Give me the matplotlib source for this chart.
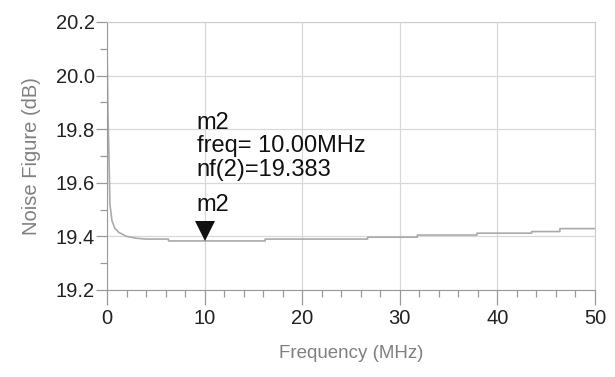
import matplotlib.pyplot as plt
import matplotlib.transforms as mtransforms
from matplotlib.ticker import MultipleLocator

# Noise figure trace (MHz, dB)
freq = [0.0, 0.1, 0.2, 0.3, 0.5, 0.8, 1.2, 2.0, 3.0, 4.0, 6.3, 6.3, 16.2, 16.2,
        26.7, 26.7, 31.8, 31.8, 37.9, 37.9, 43.5, 43.5, 46.4, 46.4, 50.0]
nf = [20.10, 19.85, 19.70, 19.52, 19.46, 19.43, 19.415, 19.40, 19.393, 19.39, 19.39, 19.383,
      19.383, 19.39, 19.39, 19.397, 19.397, 19.405, 19.405, 19.412, 19.412, 19.418,
      19.418, 19.429, 19.429]

marker_freq = 10.0
marker_nf = 19.383
readout = ['m2', 'freq= 10.00MHz', 'nf(2)=19.383']

plt.rcParams['font.family'] = ['Liberation Sans', 'DejaVu Sans']

fig = plt.figure(figsize=(6.15, 3.77), dpi=100)
ax = fig.add_axes([0.174, 0.2308, 0.7935, 0.7109])

ax.plot(freq, nf, color='#aaaaaa', linewidth=1.2)

# marker triangle, tip sitting on the data point
msize = 14
tip = mtransforms.offset_copy(ax.transData, fig=fig, y=msize / 2, units='points')
ax.plot([marker_freq], [marker_nf], marker='v', color='#111111', markersize=msize,
        markeredgewidth=0, linestyle='none', transform=tip, clip_on=False)
ax.text(marker_freq - 0.82, 19.493, 'm2', ha='left', va='baseline', fontsize=17, color='#111111')

# marker readout
for i, line in enumerate(readout):
    ax.text(marker_freq - 0.82, 19.800 - i * 0.087, line, ha='left', va='baseline',
            fontsize=17, color='#111111')

ax.set_xlim(0, 50)
ax.set_ylim(19.2, 20.2)
ax.xaxis.set_major_locator(MultipleLocator(10))
ax.xaxis.set_minor_locator(MultipleLocator(2))
ax.yaxis.set_major_locator(MultipleLocator(0.2))
ax.yaxis.set_minor_locator(MultipleLocator(0.1))
ax.yaxis.set_major_formatter(plt.FormatStrFormatter('%.1f'))

ax.grid(True, which='major', color='#d8d8d8', linewidth=0.9)
ax.tick_params(which='both', direction='out', width=0.9, color='#999999',
               labelsize=14.5, labelcolor='#222222')
ax.tick_params(axis='x', which='major', length=11, pad=3)
ax.tick_params(axis='y', which='major', length=8, pad=1)
ax.tick_params(which='minor', length=5)

for s in ['left', 'bottom']:
    ax.spines[s].set_color('#999999')
for s in ['top', 'right']:
    ax.spines[s].set_color('#cccccc')

ax.set_xlabel('Frequency (MHz)', fontsize=13.5, color='#808080', labelpad=12)
ax.set_ylabel('Noise Figure (dB)', fontsize=14.5, color='#808080', labelpad=10)

fig.savefig('out.png', dpi=100)
